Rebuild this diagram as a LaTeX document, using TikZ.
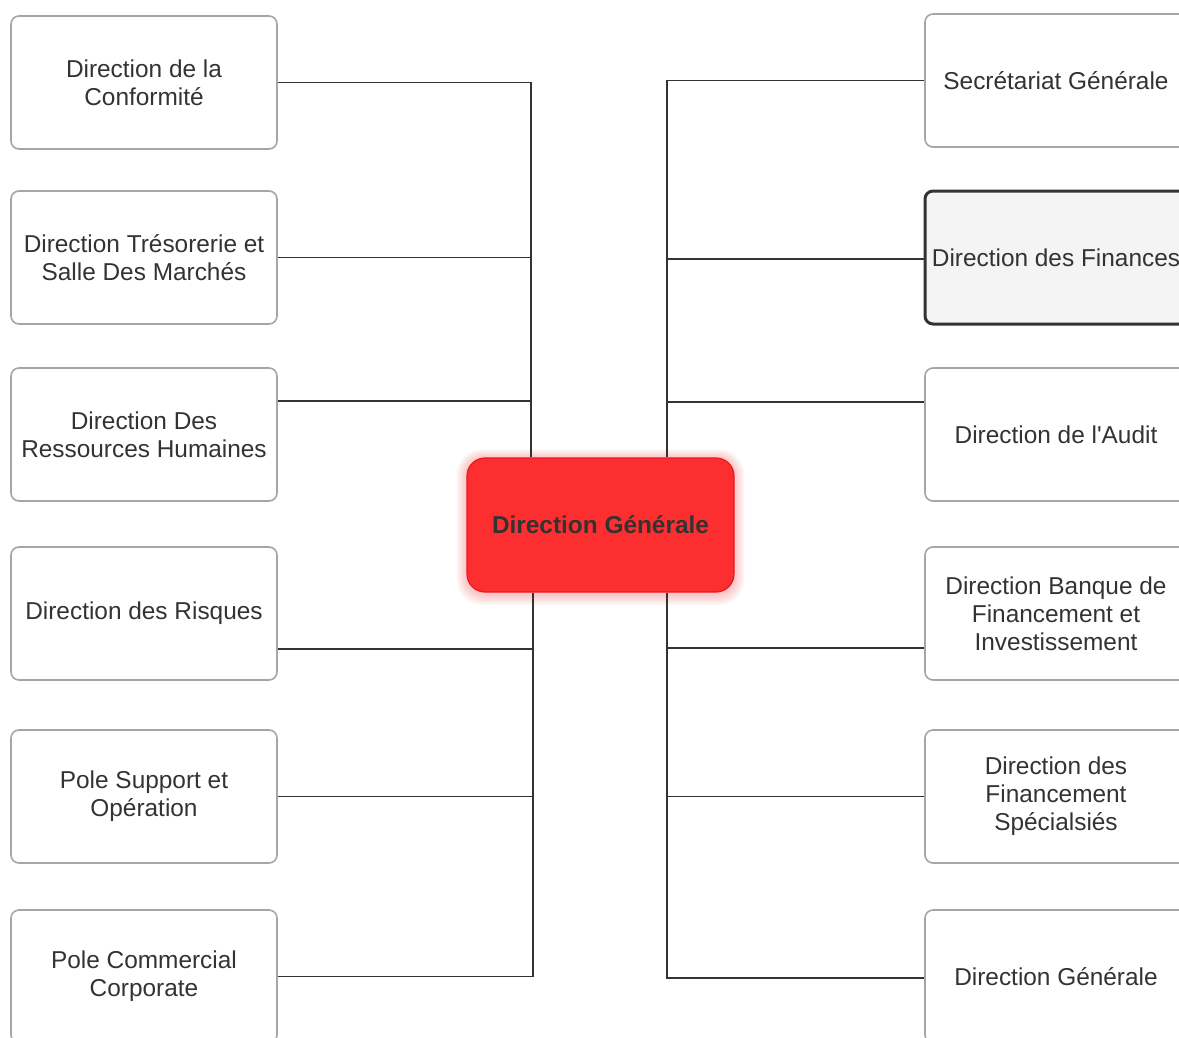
\documentclass[tikz,border=0pt]{standalone}
\usepackage{fontspec}
\setmainfont{Liberation Sans}
\definecolor{txt}{HTML}{333333}
\definecolor{boxline}{HTML}{A6A6A6}
\definecolor{hubred}{HTML}{FC2E30}
\definecolor{hubline}{HTML}{E8191C}
\definecolor{soft}{HTML}{F4F4F4}
\tikzset{
  unit box/.style={rectangle, rounded corners=8, draw=boxline, line width=1.6,
    fill=white, minimum width=266, minimum height=133, align=center,
    text=txt, font=\fontsize{24.4}{28}\selectfont, inner sep=2},
  right box/.style={unit box, minimum width=262},
  hub/.style={rectangle, rounded corners=18, draw=hubline, line width=1.2,
    fill=hubred, minimum width=267, minimum height=134, text=txt,
    font=\fontsize{24.4}{28}\selectfont\bfseries},
  conn/.style={draw=txt, line width=1.6}
}
\begin{document}
\begin{tikzpicture}[x=1pt, y=-1pt]
\useasboundingbox (0,0) rectangle (1179,1037);
\clip (0,0) rectangle (1179,1037);
\fill[white] (0,0) rectangle (1179,1037);

% soft red halo behind the central unit
\foreach \i in {1,...,8}
  \fill[hubred, opacity=0.035, rounded corners=18+\i]
    (467-\i*1.3,458-\i*1.1) rectangle (734+\i*1.3,594+\i*1.4);

% left column
\node[unit box] (L1) at (144,82.5)  {Direction de la\\Conformité};
\node[unit box] (L2) at (144,257.5) {Direction Trésorerie et\\Salle Des Marchés};
\node[unit box] (L3) at (144,434.5) {Direction Des\\Ressources Humaines};
\node[unit box] (L4) at (144,613.5) {Direction des Risques};
\node[unit box] (L5) at (144,796.5) {Pole Support et\\Opération};
\node[unit box] (L6) at (144,976.5) {Pole Commercial\\Corporate};

% right column
\node[right box] (R1) at (1056,80.5)  {Secrétariat Générale};
\node[right box, fill=soft, draw=txt, line width=3] (R2) at (1056,257.5) {Direction des Finances};
\node[right box] (R3) at (1056,434.5) {Direction de l\textquotesingle Audit};
\node[right box] (R4) at (1056,613.5) {Direction Banque de\\Financement et\\Investissement};
\node[right box] (R5) at (1056,796.5) {Direction des\\Financement\\Spécialsiés};
\node[right box] (R6) at (1056,976.5) {Direction Générale};

% central unit
\node[hub] (CG) at (600.5,525) {Direction Générale};

% trunk positions
\coordinate (jl)  at (531,0);
\coordinate (jlb) at (533,0);
\coordinate (jr)  at (667,0);

% left connectors
\draw[conn] (L1.east) -| (CG.north -| jl);
\draw[conn] (L2.east) -- (L2.east -| jl);
\draw[conn] ([yshift=33.5]L3.east) -- ([yshift=33.5]L3.east -| jl);
\draw[conn] ([yshift=-35.5]L4.east) -- ([yshift=-35.5]L4.east -| jlb);
\draw[conn] (L5.east) -- (L5.east -| jlb);
\draw[conn] (L6.east) -| (CG.south -| jlb);

% right connectors
\draw[conn] (R1.west) -| (CG.north -| jr);
\draw[conn] ([yshift=-1.5]R2.west) -- ([yshift=-1.5]R2.west -| jr);
\draw[conn] ([yshift=32.5]R3.west) -- ([yshift=32.5]R3.west -| jr);
\draw[conn] ([yshift=-34.5]R4.west) -- ([yshift=-34.5]R4.west -| jr);
\draw[conn] (R5.west) -- (R5.west -| jr);
\draw[conn] ([yshift=-1.5]R6.west) -| (CG.south -| jr);
\end{tikzpicture}
\end{document}
